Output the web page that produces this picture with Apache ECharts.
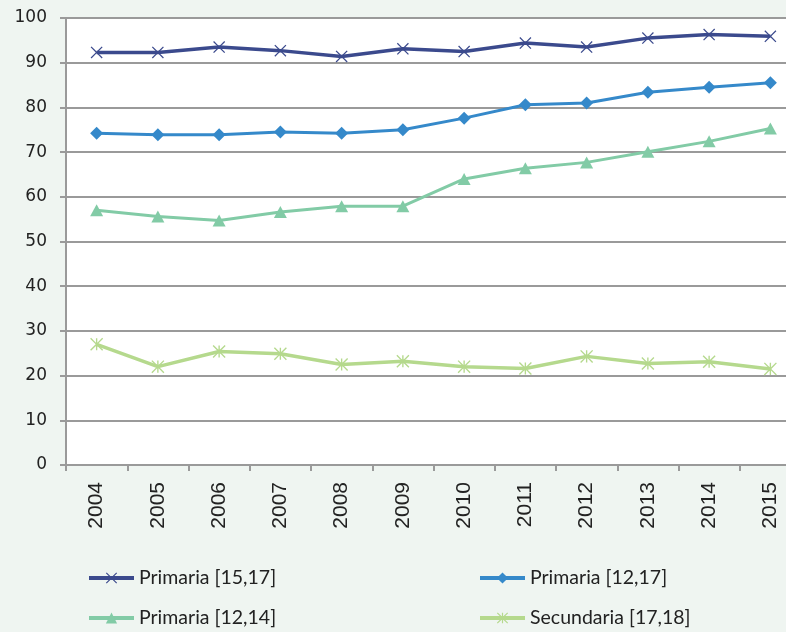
<!DOCTYPE html>
<html>
<head>
<meta charset="utf-8">
<style>
  html, body { margin: 0; padding: 0; background: #eff5f1; }
  #chart { width: 786px; height: 632px; }
</style>
<script src="https://cdn.jsdelivr.net/npm/echarts@6/dist/echarts.min.js"></script>
</head>
<body>
<div id="chart"></div>
<script>
// Years on the category axis
const years = ['2004', '2005', '2006', '2007', '2008', '2009', '2010', '2011', '2012', '2013', '2014', '2015'];

// Series values (%)
const primaria1517 = [92.3, 92.3, 93.5, 92.7, 91.4, 93.1, 92.5, 94.4, 93.5, 95.5, 96.3, 95.9];
const primaria1217 = [74.2, 73.9, 73.9, 74.5, 74.2, 75.0, 77.6, 80.6, 81.0, 83.4, 84.5, 85.5];
const primaria1214 = [57.0, 55.6, 54.7, 56.6, 57.9, 57.9, 64.0, 66.4, 67.7, 70.1, 72.4, 75.3];
const secundaria1718 = [27.0, 22.0, 25.4, 24.9, 22.5, 23.2, 22.0, 21.6, 24.3, 22.7, 23.1, 21.5];

const seriesNames = ['Primaria [15,17]', 'Primaria [12,17]', 'Primaria [12,14]', 'Secundaria [17,18]'];

// Star-shaped marker built from thin arms radiating from the centre
function armsPath(arms, t) {
  arms = arms.slice().sort((a, b) => a[0] - b[0]);
  const pts = [];
  const n = arms.length;
  for (let i = 0; i < n; i++) {
    const a = arms[i][0] * Math.PI / 180, L = arms[i][1];
    const dx = Math.cos(a), dy = Math.sin(a);
    const nx = -dy, ny = dx;
    pts.push([L * dx - t / 2 * nx, L * dy - t / 2 * ny]);
    pts.push([L * dx + t / 2 * nx, L * dy + t / 2 * ny]);
    let next = arms[(i + 1) % n][0];
    if (next <= arms[i][0]) next += 360;
    const delta = (next - arms[i][0]) * Math.PI / 180;
    const mid = a + delta / 2;
    const r = (t / 2) / Math.sin(delta / 2);
    pts.push([r * Math.cos(mid), r * Math.sin(mid)]);
  }
  return 'path://' + pts.map((p, i) => (i ? 'L' : 'M') + (p[0] + 10).toFixed(2) + ',' + (p[1] + 10).toFixed(2)).join(' ') + ' Z';
}
const crossSymbol = armsPath([[45, 10], [135, 10], [225, 10], [315, 10]], 1.6);
const asteriskSymbol = armsPath([[45, 10], [135, 10], [225, 10], [315, 10], [90, 7.1], [270, 7.1]], 1.6);

const colors = ['#3b4a8d', '#3589ca', '#82cba6', '#b5d98d'];

const chart = echarts.init(document.getElementById('chart'));

function legendAt(name, left, top) {
  return {
    data: [name],
    left: left,
    top: top,
    orient: 'horizontal',
    itemWidth: 45,
    itemHeight: 14,
    padding: 0,
    selectedMode: false,
    lineStyle: { width: 4 },
    textStyle: { fontFamily: 'Lato, sans-serif', fontSize: 19.5, color: '#222' }
  };
}

chart.setOption({
  backgroundColor: '#eff5f1',
  animation: false,
  color: colors,
  grid: {
    left: 66,
    top: 18,
    width: 735,
    height: 447,
    containLabel: false,
    outerBoundsMode: 'none',
    show: true,
    backgroundColor: '#ffffff',
    borderWidth: 0
  },
  legend: [
    legendAt(seriesNames[0], 87, 568),
    legendAt(seriesNames[1], 478, 568),
    legendAt(seriesNames[2], 87, 608),
    legendAt(seriesNames[3], 478, 608)
  ],
  xAxis: {
    type: 'category',
    data: years,
    boundaryGap: true,
    axisLine: { lineStyle: { color: '#9a9a9a', width: 2 } },
    axisTick: { show: true, length: 6, lineStyle: { color: '#9a9a9a', width: 2 } },
    axisLabel: {
      rotate: 90,
      margin: 17,
      fontFamily: '"Liberation Sans", Arial, sans-serif',
      fontSize: 21,
      color: '#222'
    },
    splitLine: { show: false }
  },
  yAxis: {
    type: 'value',
    min: 0,
    max: 100,
    interval: 10,
    axisLine: { show: true, lineStyle: { color: '#9a9a9a', width: 2 } },
    axisTick: { show: true, length: 6, lineStyle: { color: '#9a9a9a', width: 2 } },
    axisLabel: {
      margin: 19,
      fontFamily: '"DejaVu Sans", sans-serif',
      fontSize: 17,
      color: '#222'
    },
    splitLine: { show: true, lineStyle: { color: '#9a9a9a', width: 2 } }
  },
  series: [
    {
      name: seriesNames[0], type: 'line', data: primaria1517,
      symbol: crossSymbol, symbolSize: 12, symbolKeepAspect: true, showAllSymbol: true,
      lineStyle: { width: 3.5, color: colors[0] },
      itemStyle: { color: colors[0] }
    },
    {
      name: seriesNames[1], type: 'line', data: primaria1217,
      symbol: 'diamond', symbolSize: [13, 13], showAllSymbol: true,
      lineStyle: { width: 3, color: colors[1] },
      itemStyle: { color: colors[1] }
    },
    {
      name: seriesNames[2], type: 'line', data: primaria1214,
      symbol: 'triangle', symbolSize: [13, 12], showAllSymbol: true,
      lineStyle: { width: 3, color: colors[2] },
      itemStyle: { color: colors[2] }
    },
    {
      name: seriesNames[3], type: 'line', data: secundaria1718,
      symbol: asteriskSymbol, symbolSize: 13, symbolKeepAspect: true, showAllSymbol: true,
      lineStyle: { width: 3.5, color: colors[3] },
      itemStyle: { color: colors[3] }
    }
  ]
});
</script>
</body>
</html>
